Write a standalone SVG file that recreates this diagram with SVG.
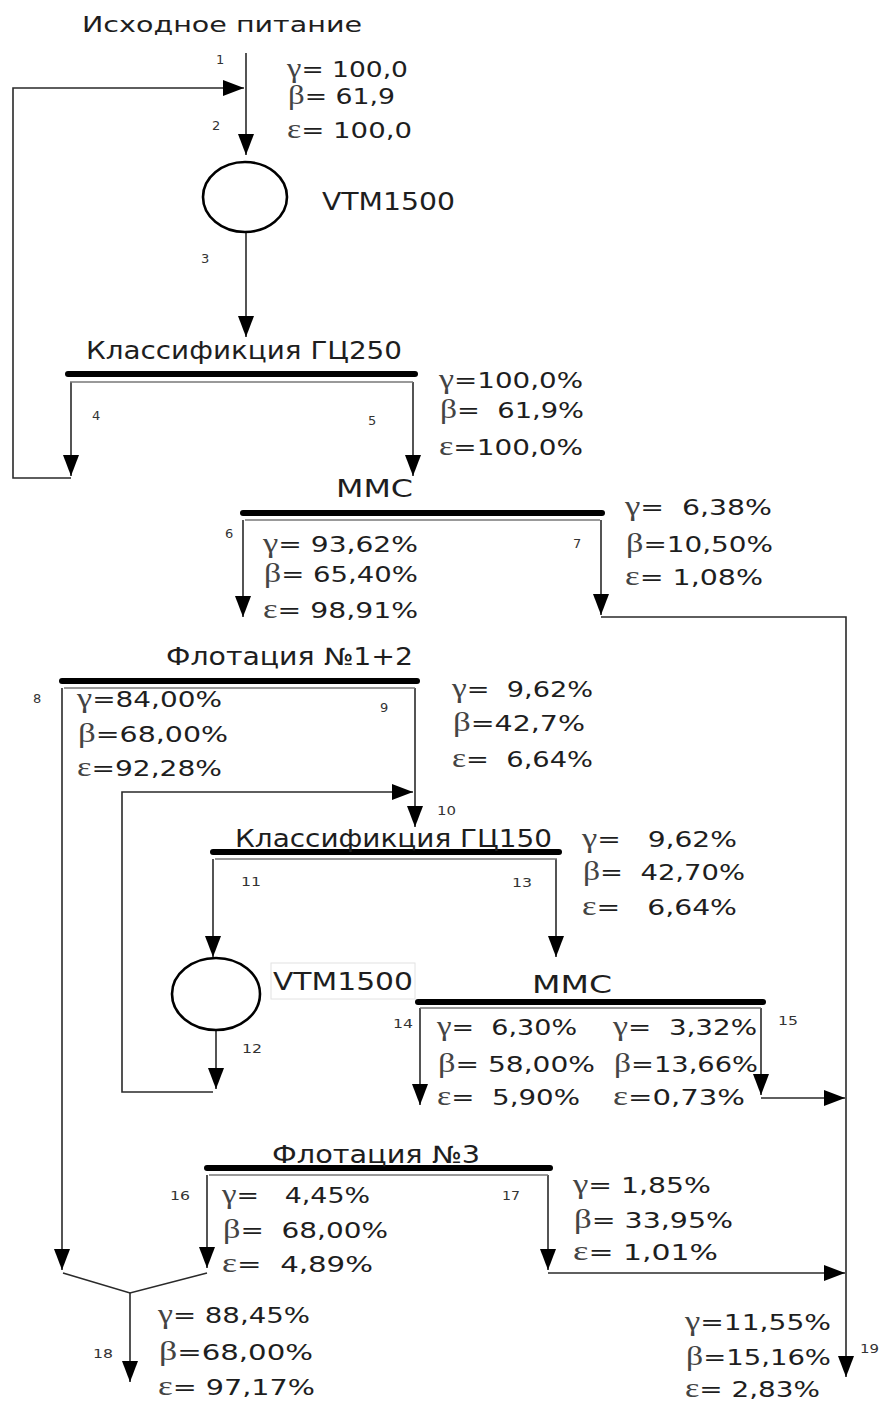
<svg xmlns="http://www.w3.org/2000/svg" width="882" height="1405" viewBox="0 0 882 1405" xml:space="preserve">
<style>
text{font-family:"DejaVu Sans","Liberation Sans",sans-serif;fill:#1e1e1e;white-space:pre}
.t{font-size:24px}
.s{font-size:22px}
.n{font-size:13px;fill:#333}
.g{font-family:"Liberation Serif","DejaVu Serif",serif;fill:#444;font-size:27px}
.c{fill:none;stroke:#2a2a2a;stroke-width:1.6}
.bar{stroke:#000;stroke-width:6;stroke-linecap:round}
.thin{stroke:#777;stroke-width:1.6}
.eq{fill:none;stroke:#000;stroke-width:2.6}
</style>
<defs>
<marker id="ah" markerUnits="userSpaceOnUse" markerWidth="22" markerHeight="18" viewBox="0 0 22 18" refX="21" refY="9" orient="auto">
<path d="M0,1 L21,9 L0,17 z" fill="#000"/>
</marker>
</defs>

<g id="connectors">
<path class="c" d="M246,53 V155" marker-end="url(#ah)"/>
<path class="c" d="M71,478 H13 V88 H244" marker-end="url(#ah)"/>
<path class="c" d="M246,232 V337" marker-end="url(#ah)"/>
<path class="c" d="M71,382 V476" marker-end="url(#ah)"/>
<path class="c" d="M413,382 V476" marker-end="url(#ah)"/>
<path class="c" d="M243,520 V617" marker-end="url(#ah)"/>
<path class="c" d="M601,520 V615" marker-end="url(#ah)"/>
<path class="c" d="M601,617 H846 V1377" marker-end="url(#ah)"/>
<path class="c" d="M62,688 V1270" marker-end="url(#ah)"/>
<path class="c" d="M415,688 V827" marker-end="url(#ah)"/>
<path class="c" d="M213,1092 H122 V792 H413" marker-end="url(#ah)"/>
<path class="c" d="M213,859 V957" marker-end="url(#ah)"/>
<path class="c" d="M556,859 V957" marker-end="url(#ah)"/>
<path class="c" d="M216,1030 V1089" marker-end="url(#ah)"/>
<path class="c" d="M420,1008 V1105" marker-end="url(#ah)"/>
<path class="c" d="M761,1008 V1095" marker-end="url(#ah)"/>
<path class="c" d="M761,1098 H845" marker-end="url(#ah)"/>
<path class="c" d="M207,1175 V1268" marker-end="url(#ah)"/>
<path class="c" d="M548,1175 V1270" marker-end="url(#ah)"/>
<path class="c" d="M548,1273 H845" marker-end="url(#ah)"/>
<path class="c" d="M63,1273 L130,1293 L207,1273"/>
<path class="c" d="M130,1293 V1382" marker-end="url(#ah)"/>
</g>

<g id="feed">
<text class="t" x="82" y="32" textLength="280" lengthAdjust="spacingAndGlyphs" style="font-size:22px">Исходное питание</text>
</g>

<g id="vtm1">
<ellipse class="eq" cx="245" cy="197" rx="42" ry="35"/>
<text class="t" x="322" y="210" textLength="133" lengthAdjust="spacingAndGlyphs">VTM1500</text>
</g>

<g id="gc250">
<line class="bar" x1="68" y1="374" x2="415" y2="374"/>
<line class="thin" x1="70" y1="382" x2="413" y2="382"/>
<text class="t" x="86" y="359" textLength="316" lengthAdjust="spacingAndGlyphs">Классификция ГЦ250</text>
</g>

<g id="mmc1">
<line class="bar" x1="243" y1="513" x2="602" y2="513"/>
<line class="thin" x1="245" y1="520" x2="600" y2="520"/>
<text class="t" x="336" y="497" textLength="77" lengthAdjust="spacingAndGlyphs">ММС</text>
</g>

<g id="flot12">
<line class="bar" x1="62" y1="681" x2="417" y2="681"/>
<line class="thin" x1="64" y1="688" x2="415" y2="688"/>
<text class="t" x="166" y="665" textLength="247" lengthAdjust="spacingAndGlyphs">Флотация №1+2</text>
</g>

<g id="gc150">
<line class="bar" x1="213" y1="852" x2="559" y2="852"/>
<line class="thin" x1="215" y1="859" x2="557" y2="859"/>
<text class="t" x="235" y="847" textLength="317" lengthAdjust="spacingAndGlyphs">Классификция ГЦ150</text>
</g>

<g id="vtm2">
<ellipse class="eq" cx="216" cy="994" rx="44" ry="36"/>
<rect x="271" y="963" width="144" height="36" fill="none" stroke="#e2e2e2" stroke-width="1"/>
<text class="t" x="273" y="990" textLength="140" lengthAdjust="spacingAndGlyphs">VTM1500</text>
</g>

<g id="mmc2">
<line class="bar" x1="418" y1="1002" x2="763" y2="1002"/>
<line class="thin" x1="420" y1="1008" x2="761" y2="1008"/>
<text class="t" x="532" y="993" textLength="80" lengthAdjust="spacingAndGlyphs">ММС</text>
</g>

<g id="flot3">
<line class="bar" x1="207" y1="1168" x2="550" y2="1168"/>
<line class="thin" x1="209" y1="1175" x2="548" y2="1175"/>
<text class="t" x="272" y="1163" textLength="208" lengthAdjust="spacingAndGlyphs">Флотация №3</text>
</g>

<g id="stream-labels">
<text class="n" x="216" y="64">1</text>
<text class="n" x="212" y="130">2</text>
<text class="n" x="201" y="263">3</text>
<text class="n" x="92" y="420">4</text>
<text class="n" x="368" y="425">5</text>
<text class="n" x="225" y="538">6</text>
<text class="n" x="573" y="548">7</text>
<text class="n" x="33" y="703">8</text>
<text class="n" x="380" y="712">9</text>
<text class="n" x="437" y="815" textLength="19" lengthAdjust="spacingAndGlyphs">10</text>
<text class="n" x="241" y="886" textLength="20" lengthAdjust="spacingAndGlyphs">11</text>
<text class="n" x="242" y="1053" textLength="20" lengthAdjust="spacingAndGlyphs">12</text>
<text class="n" x="512" y="887" textLength="20" lengthAdjust="spacingAndGlyphs">13</text>
<text class="n" x="393" y="1028" textLength="20" lengthAdjust="spacingAndGlyphs">14</text>
<text class="n" x="778" y="1025" textLength="20" lengthAdjust="spacingAndGlyphs">15</text>
<text class="n" x="170" y="1200" textLength="20" lengthAdjust="spacingAndGlyphs">16</text>
<text class="n" x="502" y="1200" textLength="18" lengthAdjust="spacingAndGlyphs">17</text>
<text class="n" x="93" y="1358" textLength="20" lengthAdjust="spacingAndGlyphs">18</text>
<text class="n" x="860" y="1353" textLength="19" lengthAdjust="spacingAndGlyphs">19</text>
</g>

<g id="stats-feed">
<text class="s" x="287" y="77" textLength="121" lengthAdjust="spacingAndGlyphs"><tspan class="g">γ</tspan>= 100,0</text>
<text class="s" x="288" y="104" textLength="107" lengthAdjust="spacingAndGlyphs"><tspan class="g">β</tspan>= 61,9</text>
<text class="s" x="287" y="138" textLength="125" lengthAdjust="spacingAndGlyphs"><tspan class="g">ε</tspan>= 100,0</text>
</g>

<g id="stats-5">
<text class="s" x="439" y="388" textLength="144" lengthAdjust="spacingAndGlyphs"><tspan class="g">γ</tspan>=100,0%</text>
<text class="s" x="440" y="418" textLength="144" lengthAdjust="spacingAndGlyphs"><tspan class="g">β</tspan>=  61,9%</text>
<text class="s" x="439" y="455" textLength="144" lengthAdjust="spacingAndGlyphs"><tspan class="g">ε</tspan>=100,0%</text>
</g>

<g id="stats-6">
<text class="s" x="263" y="552" textLength="155" lengthAdjust="spacingAndGlyphs"><tspan class="g">γ</tspan>= 93,62%</text>
<text class="s" x="264" y="582" textLength="154" lengthAdjust="spacingAndGlyphs"><tspan class="g">β</tspan>= 65,40%</text>
<text class="s" x="263" y="618" textLength="155" lengthAdjust="spacingAndGlyphs"><tspan class="g">ε</tspan>= 98,91%</text>
</g>

<g id="stats-7">
<text class="s" x="625" y="515" textLength="147" lengthAdjust="spacingAndGlyphs"><tspan class="g">γ</tspan>=  6,38%</text>
<text class="s" x="626" y="552" textLength="147" lengthAdjust="spacingAndGlyphs"><tspan class="g">β</tspan>=10,50%</text>
<text class="s" x="625" y="585" textLength="138" lengthAdjust="spacingAndGlyphs"><tspan class="g">ε</tspan>= 1,08%</text>
</g>

<g id="stats-8">
<text class="s" x="77" y="707" textLength="145" lengthAdjust="spacingAndGlyphs"><tspan class="g">γ</tspan>=84,00%</text>
<text class="s" x="78" y="742" textLength="150" lengthAdjust="spacingAndGlyphs"><tspan class="g">β</tspan>=68,00%</text>
<text class="s" x="77" y="776" textLength="145" lengthAdjust="spacingAndGlyphs"><tspan class="g">ε</tspan>=92,28%</text>
</g>

<g id="stats-9">
<text class="s" x="452" y="697" textLength="141" lengthAdjust="spacingAndGlyphs"><tspan class="g">γ</tspan>=  9,62%</text>
<text class="s" x="453" y="731" textLength="132" lengthAdjust="spacingAndGlyphs"><tspan class="g">β</tspan>=42,7%</text>
<text class="s" x="452" y="767" textLength="141" lengthAdjust="spacingAndGlyphs"><tspan class="g">ε</tspan>=  6,64%</text>
</g>

<g id="stats-13">
<text class="s" x="582" y="847" textLength="155" lengthAdjust="spacingAndGlyphs"><tspan class="g">γ</tspan>=   9,62%</text>
<text class="s" x="583" y="880" textLength="162" lengthAdjust="spacingAndGlyphs"><tspan class="g">β</tspan>=  42,70%</text>
<text class="s" x="582" y="915" textLength="155" lengthAdjust="spacingAndGlyphs"><tspan class="g">ε</tspan>=   6,64%</text>
</g>

<g id="stats-14">
<text class="s" x="437" y="1035" textLength="140" lengthAdjust="spacingAndGlyphs"><tspan class="g">γ</tspan>=  6,30%</text>
<text class="s" x="438" y="1072" textLength="157" lengthAdjust="spacingAndGlyphs"><tspan class="g">β</tspan>= 58,00%</text>
<text class="s" x="437" y="1105" textLength="143" lengthAdjust="spacingAndGlyphs"><tspan class="g">ε</tspan>=  5,90%</text>
</g>

<g id="stats-15">
<text class="s" x="613" y="1035" textLength="144" lengthAdjust="spacingAndGlyphs"><tspan class="g">γ</tspan>=  3,32%</text>
<text class="s" x="614" y="1072" textLength="144" lengthAdjust="spacingAndGlyphs"><tspan class="g">β</tspan>=13,66%</text>
<text class="s" x="613" y="1105" textLength="132" lengthAdjust="spacingAndGlyphs"><tspan class="g">ε</tspan>=0,73%</text>
</g>

<g id="stats-16">
<text class="s" x="222" y="1203" textLength="148" lengthAdjust="spacingAndGlyphs"><tspan class="g">γ</tspan>=   4,45%</text>
<text class="s" x="223" y="1238" textLength="165" lengthAdjust="spacingAndGlyphs"><tspan class="g">β</tspan>=  68,00%</text>
<text class="s" x="222" y="1272" textLength="151" lengthAdjust="spacingAndGlyphs"><tspan class="g">ε</tspan>=  4,89%</text>
</g>

<g id="stats-17">
<text class="s" x="573" y="1193" textLength="138" lengthAdjust="spacingAndGlyphs"><tspan class="g">γ</tspan>= 1,85%</text>
<text class="s" x="574" y="1228" textLength="159" lengthAdjust="spacingAndGlyphs"><tspan class="g">β</tspan>= 33,95%</text>
<text class="s" x="573" y="1260" textLength="145" lengthAdjust="spacingAndGlyphs"><tspan class="g">ε</tspan>= 1,01%</text>
</g>

<g id="stats-18">
<text class="s" x="158" y="1323" textLength="152" lengthAdjust="spacingAndGlyphs"><tspan class="g">γ</tspan>= 88,45%</text>
<text class="s" x="159" y="1360" textLength="154" lengthAdjust="spacingAndGlyphs"><tspan class="g">β</tspan>=68,00%</text>
<text class="s" x="158" y="1395" textLength="157" lengthAdjust="spacingAndGlyphs"><tspan class="g">ε</tspan>= 97,17%</text>
</g>

<g id="stats-19">
<text class="s" x="685" y="1330" textLength="146" lengthAdjust="spacingAndGlyphs"><tspan class="g">γ</tspan>=11,55%</text>
<text class="s" x="686" y="1365" textLength="145" lengthAdjust="spacingAndGlyphs"><tspan class="g">β</tspan>=15,16%</text>
<text class="s" x="685" y="1397" textLength="135" lengthAdjust="spacingAndGlyphs"><tspan class="g">ε</tspan>= 2,83%</text>
</g>
</svg>
